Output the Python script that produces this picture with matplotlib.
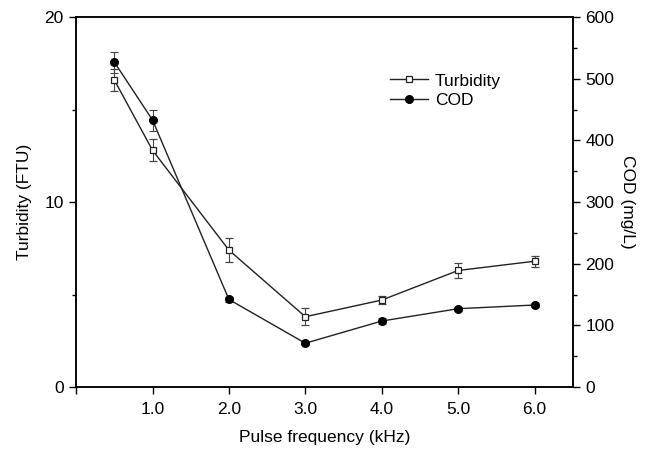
import matplotlib.pyplot as plt
from matplotlib.ticker import MultipleLocator

plt.rcParams['font.family'] = ['Liberation Sans', 'DejaVu Sans']
plt.rcParams['font.size'] = 12.5

freq = [0.5, 1.0, 2.0, 3.0, 4.0, 5.0, 6.0]
turbidity = [16.6, 12.8, 7.4, 3.8, 4.7, 6.3, 6.8]
turbidity_err = [0.6, 0.6, 0.65, 0.45, 0.2, 0.4, 0.3]
cod = [527, 433, 142, 71, 107, 127, 133]
cod_err = [17, 17, 4, 3, 5, 3, 4]

xticks = [0, 1, 2, 3, 4, 5, 6]
xticklabels = ['', '1.0', '2.0', '3.0', '4.0', '5.0', '6.0']

fig = plt.figure(figsize=(6.45, 4.5), dpi=100)
ax = fig.add_axes([0.118, 0.14, 0.770, 0.822])
ax2 = ax.twinx()

line_kw = dict(color='#222222', lw=1.0, capsize=3, elinewidth=0.8, capthick=0.8,
               ecolor='#444444')
h1 = ax.errorbar(freq, turbidity, yerr=turbidity_err, marker='s', ms=4.5,
                 mfc='white', mec='#222222', mew=0.9, label='Turbidity', **line_kw)
h2 = ax2.errorbar(freq, cod, yerr=cod_err, marker='o', ms=5.5,
                  mfc='black', mec='black', label='COD', **line_kw)

ax.set_xlim(0, 6.5)
ax.set_ylim(0, 20)
ax2.set_ylim(0, 600)
ax.set_xticks(xticks)
ax.set_xticklabels(xticklabels)
ax.yaxis.set_major_locator(MultipleLocator(10))
ax.yaxis.set_minor_locator(MultipleLocator(5))
ax2.yaxis.set_major_locator(MultipleLocator(100))
ax2.yaxis.set_minor_locator(MultipleLocator(50))

for a in (ax, ax2):
    a.tick_params(which='major', direction='out', length=5, width=1, pad=4)
    a.tick_params(which='minor', direction='out', length=3, width=1)
    for s in a.spines.values():
        s.set_linewidth(1.1)
ax.tick_params(axis='x', pad=6)

ax.set_xlabel('Pulse frequency (kHz)', labelpad=9)
ax.set_ylabel('Turbidity (FTU)', labelpad=9)
ax2.set_ylabel('COD (mg/L)', rotation=270, labelpad=15)

leg = ax.legend([h1[0], h2[0]], ['Turbidity', 'COD'], loc='upper left',
                bbox_to_anchor=(0.60, 0.89), frameon=False, handlelength=2.2,
                handletextpad=0.4, labelspacing=0.25)

fig.savefig('out.png', dpi=100)
